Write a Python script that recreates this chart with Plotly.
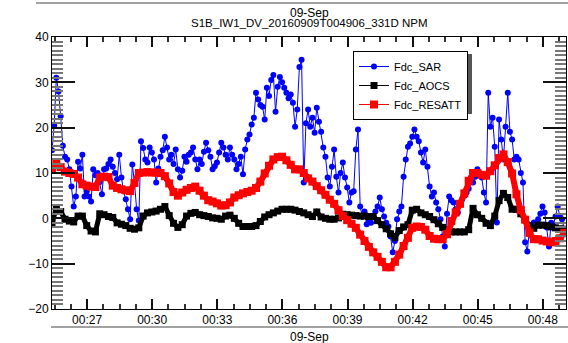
import pandas as pd
import plotly.graph_objects as go

# ---------------- data ----------------
start_time = "2016-09-09 00:25:23"
sar_step_s = 6
att_step_s = 12

fdc_sar = [15.0, 20.5, 31.0, 28.0, 22.5, 16.0, 13.6, 13.0, 10.8, 7.0, 2.6,
           4.8, 12.5, 11.0, 14.0, 4.8, 6.0, 4.8, 3.7, 10.8, 9.5, 10.0, 8.0,
           5.3, 10.8, 11.0, 12.0, 13.0, 11.4, 10.0, 8.6, 14.0, 9.0, 6.0, 4.2, 2.0, -0.2, 11.9, 7.9, 2.0, -0.5,
           17.0, 15.5, 13.0, 12.3, 15.6, 14.5, 13.0, 7.9, 11.0, 13.6, 15.0, 18.0, 15.6, 13.0, 14.0, 12.0,
           15.2, 10.8, 9.0, 10.5, 13.6, 12.5, 14.0, 14.5, 15.6, 13.0, 10.8, 13.0, 12.0, 14.7, 16.7, 15.0,
           13.6, 10.8, 11.5, 12.3, 14.5, 16.7, 15.6, 14.0, 13.0, 15.6, 14.0, 13.0, 10.8, 12.0, 13.6, 9.7,
           15.2, 17.4, 18.5, 20.7, 22.2, 27.7, 26.2, 25.0, 24.6, 21.8, 28.8, 27.0, 30.5, 31.6, 23.5, 29.0,
           31.2, 30.0, 28.8, 27.7, 26.5, 27.3, 25.5, 20.2, 24.0, 33.4,
           35.0, 7.9, 21.0, 24.0, 20.2, 22.2, 18.9, 24.4, 21.3, 19.1, 15.6, 13.6, 9.0, 7.0, 11.4, 15.2,
           9.2, 5.7, 10.0, 12.3, 9.0, 6.8, 3.5, 5.7, 6.0, 15.2, 19.6, 2.6,
           0.4, 1.5, -1.3, -0.5, -1.0, 0.4, 1.5, 2.6, 4.6, 2.0, 0.4, -1.0, -1.8, -4.0, -7.5, -5.0,
           -0.2, 1.5, 2.6, 9.2, 13.0, 15.8, 16.5, 18.0, 19.6, 18.0, 17.0, 14.5, 12.3, 15.2, 11.4, 7.0,
           4.8, 5.7, 3.5, 2.0, -0.2, -4.0, -6.2, 1.0, 4.8, 4.0, 3.5, 2.0, 1.3, 3.0, 4.2, 5.0, 5.7, 6.5,
           9.0, 7.9, 9.2, 10.8, 10.0, 9.0, 5.7,
           3.5, 27.7, 20.2, 22.2, 15.8, -0.9, 21.8, 17.4, 13.0, 20.2, 27.7, 19.1, 17.4, 13.0, 13.6, 13.0,
           10.0, 7.9, -5.3, -7.3, -2.4, -1.5, -0.9, -1.5, -0.2, 1.0, 2.6, 1.3, -2.0, -6.2, -1.0, -1.5,
           0.4, 2.6, 0.5, -0.2, -2.4]

fdc_aocs = [-1.0, 2.2, 1.5, -0.2, -0.6, -0.8, 0.5, 0.5, -1.6, -2.8,
            -3.0, 1.0, 0.8, 0.4, 0.2, -1.0, -1.3, -1.6, -2.2, -2.4,
            -2.1, 0.5, 1.2, 1.4, 1.6, 2.0, 2.6, 0.6, -1.1, -2.0,
            -1.4, 0.5, 1.1, 1.3, 0.8, 0.6, 0.4, 0.1, 0.0, -0.2,
            0.5, 0.7, 0.0, -1.1, -1.8, -1.8, -1.8, -1.6, -0.7, 0.3,
            0.8, 1.2, 1.6, 2.0, 2.0, 2.0, 1.8, 1.5, 1.2, 0.8,
            0.4, 1.4, 0.3, 0.0, -0.2, -0.2, 0.1, 0.9, 0.8, 0.7,
            0.6, 0.5, 0.5, 0.4, 0.4, -0.5, -1.4, -2.3, -3.4, -4.2,
            -2.7, -1.9, -1.4, 1.8, 2.0, 1.2, 0.8, 0.4, -0.3, -1.2,
            -2.0, -2.6, -3.0, -3.0, -3.0, -3.0, -2.5, 2.2, 0.8, 0.0,
            -1.1, -1.6, 0.5, 3.9, 5.5, 4.6, 2.0, 2.0, 1.0, -0.3,
            -1.6, -2.2, -1.5, -1.5, -1.6, -1.9, -2.1, -2.3, -2.4]

fdc_resatt = [11.0, 12.2, 11.3, 10.3, 10.0, 9.8, 9.0, 7.5, 7.2, 7.0,
              6.9, 9.0, 9.2, 9.1, 7.2, 6.7, 6.4, 6.2, 6.0, 7.8,
              10.0, 10.1, 10.2, 10.1, 10.1, 10.0, 9.3, 7.7, 5.8, 5.0,
              5.7, 6.3, 6.7, 7.0, 6.1, 5.0, 4.0, 3.7, 3.3, 2.8,
              2.9, 3.5, 4.6, 5.1, 5.5, 5.8, 6.1, 6.7, 8.1, 9.9,
              11.6, 13.0, 13.5, 13.6, 12.8, 11.8, 10.8, 10.8, 10.0, 8.8,
              8.1, 7.1, 6.2, 5.2, 4.1, 3.2, 1.8, 0.5, -0.4, -1.2,
              -2.1, -3.6, -5.0, -6.3, -7.5, -8.5, -9.6, -10.8, -10.8, -9.6,
              -8.0, -6.1, -4.3, -2.1, -1.8, -1.9, -2.5, -3.9, -4.5, -4.6,
              -4.6, -3.5, -0.6, 1.3, 3.2, 5.5, 8.3, 10.0, 10.0, 9.6,
              9.4, 10.4, 11.7, 13.3, 14.1, 12.4, 9.9, 5.3, 1.8, -0.3,
              -3.2, -4.6, -4.6, -4.9, -5.1, -5.3, -5.0, -4.4, -3.2]

x_range = ["2016-09-09 00:25:23", "2016-09-09 00:49:04"]
y_range = [-20, 40]
date_label = "09-Sep"
title_text = "S1B_IW1_DV_20160909T004906_331D NPM"

sar_t = pd.date_range(start_time, periods=len(fdc_sar), freq=f"{sar_step_s}s")
att_t = pd.date_range(start_time, periods=len(fdc_resatt), freq=f"{att_step_s}s")

FONT = "Liberation Sans, Arial, Helvetica, sans-serif"

fig = go.Figure()
fig.add_trace(go.Scatter(x=sar_t, y=fdc_sar, mode="lines+markers", name="Fdc_SAR",
                         line=dict(color="#0000ff", width=1),
                         marker=dict(symbol="circle", size=6, color="#0000ff")))
# thick underlay so the dense square markers read as a continuous band
fig.add_trace(go.Scatter(x=att_t, y=fdc_aocs, mode="lines", showlegend=False, hoverinfo="skip",
                         line=dict(color="#000000", width=5)))
fig.add_trace(go.Scatter(x=att_t, y=fdc_aocs, mode="lines+markers", name="Fdc_AOCS",
                         line=dict(color="#000000", width=1),
                         marker=dict(symbol="square", size=7, color="#000000")))
fig.add_trace(go.Scatter(x=att_t, y=fdc_resatt, mode="lines", showlegend=False, hoverinfo="skip",
                         line=dict(color="#ff0000", width=6)))
fig.add_trace(go.Scatter(x=att_t, y=fdc_resatt, mode="lines+markers", name="Fdc_RESATT",
                         line=dict(color="#ff0000", width=1),
                         marker=dict(symbol="square", size=8, color="#ff0000")))

# plot area in pixels: left 52, right 566, top 37, bottom 309
L, R, T, B = 52, 566, 37, 309
W, H = R - L, B - T
def px(xp):
    return (xp - L) / W
def py(yp):
    return (B - yp) / H

shapes = [
    # legend shadow
    dict(type="rect", xref="paper", yref="paper", x0=px(356), x1=px(472), y0=py(114), y1=py(54),
         fillcolor="#555555", line=dict(width=0), layer="above"),
    # top & bottom rules
    dict(type="line", xref="paper", yref="paper", x0=px(36), x1=px(570), y0=py(3), y1=py(3),
         line=dict(color="#444444", width=1)),
    dict(type="line", xref="paper", yref="paper", x0=px(51), x1=px(570), y0=py(327), y1=py(327),
         line=dict(color="#444444", width=1)),
]

annotations = [
    dict(text=date_label, xref="paper", yref="paper", x=px(309), y=py(13), showarrow=False,
         font=dict(family=FONT, size=12, color="black"), xanchor="center", yanchor="middle"),
    dict(text=title_text, xref="paper", yref="paper", x=px(309), y=py(23), showarrow=False,
         font=dict(family=FONT, size=11.5, color="black"), xanchor="center", yanchor="middle"),
    dict(text=date_label, xref="paper", yref="paper", x=px(309), y=py(337), showarrow=False,
         font=dict(family=FONT, size=12, color="black"), xanchor="center", yanchor="middle"),
]

tick_font = dict(family=FONT, size=12, color="black")

fig.update_layout(
    width=568, height=343,
    margin=dict(l=L, r=568 - R, t=T, b=343 - B),
    paper_bgcolor="white", plot_bgcolor="white",
    showlegend=True,
    legend=dict(x=px(353), y=py(51), xanchor="left", yanchor="top",
                bgcolor="white", bordercolor="black", borderwidth=1,
                font=dict(family=FONT, size=11, color="black"),
                tracegroupgap=0, itemwidth=30),
    shapes=shapes,
    annotations=annotations,
    xaxis=dict(type="date", range=x_range, tickformat="%H:%M",
               tick0="2016-09-09 00:27:00", dtick=180000,
               ticks="inside", ticklen=10, tickcolor="#111111", tickwidth=2,
               showline=True, linecolor="black", mirror="ticks",
               tickfont=tick_font,
               minor=dict(ticks="inside", ticklen=5, tickcolor="#333333", tickwidth=2,
                          dtick=45000, tick0="2016-09-09 00:27:00")),
    yaxis=dict(range=y_range, dtick=10,
               ticks="inside", ticklen=23, tickcolor="#111111", tickwidth=2,
               showline=True, linecolor="black", mirror="ticks",
               tickfont=tick_font,
               minor=dict(ticks="inside", ticklen=11, tickcolor="#777777", tickwidth=2,
                          dtick=1)),
)

fig.write_html("out.html", config={"displayModeBar": False},
               post_script="document.body.style.margin='0px';")
